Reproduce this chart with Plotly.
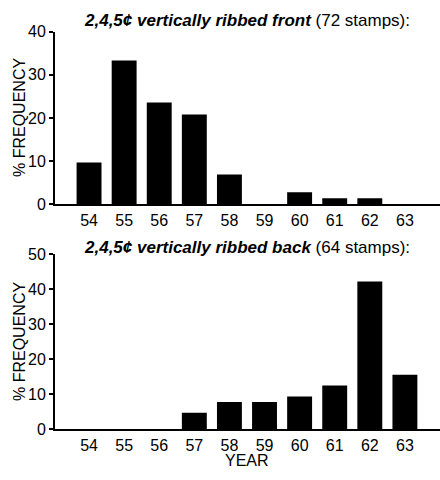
import plotly.graph_objects as go

years = ["54", "55", "56", "57", "58", "59", "60", "61", "62", "63"]
front_pct = [9.7, 33.3, 23.6, 20.8, 6.9, 0, 2.8, 1.4, 1.4, 0]
back_pct = [0, 0, 0, 4.7, 7.8, 7.8, 9.4, 12.5, 42.2, 15.6]
front_title = "<b><i>2,4,5¢ vertically ribbed front</i></b> (72 stamps):"
back_title = "<b><i>2,4,5¢ vertically ribbed back</i></b> (64 stamps):"

FONT = "Liberation Sans, Arial, Helvetica, sans-serif"
H = 480
L = 55
W = 440 - L

fig = go.Figure()
fig.add_trace(go.Bar(x=years, y=front_pct, marker=dict(color="black", line=dict(width=0)),
                     width=0.71, xaxis="x", yaxis="y", showlegend=False, hoverinfo="skip"))
fig.add_trace(go.Bar(x=years, y=back_pct, marker=dict(color="black", line=dict(width=0)),
                     width=0.71, xaxis="x2", yaxis="y2", showlegend=False, hoverinfo="skip"))

def py(p):
    return (H - p) / H

def px(p):
    return (p - L) / W

xcommon = dict(type="category", range=[-0.97, 10.0], showline=True, linecolor="black",
               linewidth=2, ticks="", showgrid=False, zeroline=False, automargin=False,
               tickfont=dict(size=16, color="black", family=FONT), fixedrange=True)
ycommon = dict(showline=True, linecolor="black", linewidth=2, ticks="outside", ticklen=4,
               tickwidth=2, tickcolor="black", showgrid=False, zeroline=False, automargin=False,
               tickfont=dict(size=16, color="black", family=FONT), fixedrange=True)

fig.update_layout(
    template="none",
    width=440, height=480,
    margin=dict(l=L, r=0, t=0, b=0, autoexpand=False),
    paper_bgcolor="white", plot_bgcolor="white",
    font=dict(family=FONT, color="black", size=16),
    xaxis=dict(**xcommon, domain=[0, 1], anchor="y"),
    yaxis=dict(**ycommon, domain=[py(204.3), py(31.7)], range=[0, 40], dtick=10, anchor="x"),
    xaxis2=dict(**xcommon, domain=[0, 1], anchor="y2"),
    yaxis2=dict(**ycommon, domain=[py(429.3), py(254.3)], range=[0, 50], dtick=10, anchor="x2"),
)

for text, yc in [(front_title, 21), (back_title, 247)]:
    fig.add_annotation(text=text, xref="paper", yref="paper",
                       x=px(247), y=py(yc), xanchor="center", yanchor="middle",
                       showarrow=False, font=dict(size=17, family=FONT, color="black"))

for yc in [118, 342]:
    fig.add_annotation(text="% FREQUENCY", xref="paper", yref="paper",
                       x=px(19), y=py(yc), xanchor="center", yanchor="middle",
                       textangle=-90, showarrow=False,
                       font=dict(size=16, family=FONT, color="black"))

fig.add_annotation(text="YEAR", xref="paper", yref="paper",
                   x=px(247), y=py(460), xanchor="center", yanchor="middle",
                   showarrow=False, font=dict(size=16, family=FONT, color="black"))

fig.write_html("out.html", config={"displayModeBar": False},
               post_script="document.body.style.margin='0';document.body.style.padding='0';")
